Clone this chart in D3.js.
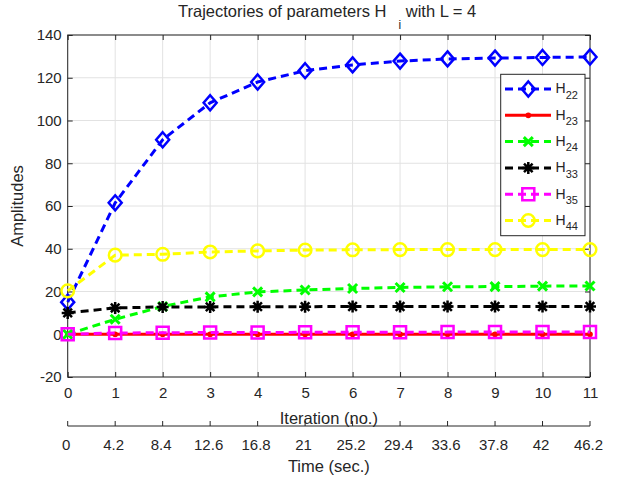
<!DOCTYPE html>
<html>
<head>
<meta charset="utf-8">
<script src="https://cdn.jsdelivr.net/npm/d3@7"></script>
<style>
  body { margin: 0; background: #fff; }
  svg { display: block; font-family: "Liberation Sans", Arial, Helvetica, sans-serif; }
  .grid line { stroke: #e2e2e2; stroke-width: 1; }
  .frame { fill: none; stroke: #262626; stroke-width: 1; }
  .tick-mark { stroke: #262626; stroke-width: 1; }
  .tick-label { fill: #262626; font-size: 15px; }
  .axis-label { fill: #262626; font-size: 16.5px; }
</style>
</head>
<body>
<div id="chart"></div>
<script>
// Data
var iterations = [0, 1, 2, 3, 4, 5, 6, 7, 8, 9, 10, 11];
var timeLabels = ["0", "4.2", "8.4", "12.6", "16.8", "21", "25.2", "29.4", "33.6", "37.8", "42", "46.2"];
var yTicks = [-20, 0, 20, 40, 60, 80, 100, 120, 140];

var h22 = [15, 61.5, 91, 108.3, 118, 123.3, 126, 127.8, 128.8, 129.2, 129.5, 129.7];
var h23 = [0, 0, 0, 0, 0, 0, 0, 0, 0, 0, 0, 0];
var h24 = [0, 7, 13, 17.5, 19.8, 20.7, 21.4, 21.9, 22.2, 22.3, 22.5, 22.6];
var h33 = [10, 12.3, 12.8, 12.8, 12.9, 12.9, 13, 13, 13, 13, 13, 13];
var h35 = [0, 0.6, 0.7, 0.8, 0.8, 0.9, 0.9, 0.9, 1, 1, 1, 1];
var h44 = [20.3, 37, 37.4, 38.5, 39, 39.4, 39.5, 39.6, 39.6, 39.6, 39.6, 39.6];

var series = [
  { name: "22", values: h22, color: "#0000ff", dash: "8,5", marker: "diamond" },
  { name: "23", values: h23, color: "#ff0000", dash: null, marker: "point" },
  { name: "24", values: h24, color: "#00ff00", dash: "8,5", marker: "cross" },
  { name: "33", values: h33, color: "#000000", dash: "8,5", marker: "asterisk" },
  { name: "35", values: h35, color: "#ff00ff", dash: "8,5", marker: "square" },
  { name: "44", values: h44, color: "#ffff00", dash: "8,5", marker: "circle" }
];

// MATLAB-like marker outlines, centred on 0,0
var markerPath = function(type) {
  if (type == "diamond") { return "M0,-7.5L6.5,0L0,7.5L-6.5,0Z"; }
  if (type == "square") { return "M-6,-6H6V6H-6Z"; }
  if (type == "circle") { return "M6.3,0A6.3,6.3 0 1,1 -6.3,0A6.3,6.3 0 1,1 6.3,0Z"; }
  if (type == "cross") { return "M-4.5,-4.5L4.5,4.5M-4.5,4.5L4.5,-4.5"; }
  if (type == "asterisk") { return "M-6,0H6M0,-6V6M-4.3,-4.3L4.3,4.3M-4.3,4.3L4.3,-4.3"; }
  return "M1.6,0A1.6,1.6 0 1,1 -1.6,0A1.6,1.6 0 1,1 1.6,0Z";
};

var width = 627;
var height = 479;
var plot = { left: 67.7, right: 590, top: 35, bottom: 377 };
var tickLen = 5;

var svg = d3.select("#chart")
  .append("svg")
  .attr("width", width)
  .attr("height", height);

var xScale = d3.scaleLinear().domain([0, 11]).range([plot.left, plot.right]);
var yScale = d3.scaleLinear().domain([-20, 140]).range([plot.bottom, plot.top]);

// Grid
var grid = svg.append("g").attr("class", "grid");
grid.selectAll("line.gx")
  .data(iterations)
  .enter()
  .append("line")
  .attr("x1", d => xScale(d)).attr("x2", d => xScale(d))
  .attr("y1", plot.top).attr("y2", plot.bottom);
grid.selectAll("line.gy")
  .data(yTicks)
  .enter()
  .append("line")
  .attr("x1", plot.left).attr("x2", plot.right)
  .attr("y1", d => yScale(d)).attr("y2", d => yScale(d));

// Axes (inward ticks on all four sides), plain hyphen for negatives
var plainNumber = d => String(d);

var xAxisBottom = d3.axisBottom(xScale).tickValues(iterations).tickSize(-tickLen).tickPadding(10).tickFormat(plainNumber);
var xAxisTop = d3.axisTop(xScale).tickValues(iterations).tickSize(-tickLen).tickFormat("");
var yAxisLeft = d3.axisLeft(yScale).tickValues(yTicks).tickSize(-tickLen).tickPadding(6).tickFormat(plainNumber);
var yAxisRight = d3.axisRight(yScale).tickValues(yTicks).tickSize(-tickLen).tickFormat("");

var styleAxis = function(g) {
  g.select(".domain").remove();
  g.selectAll(".tick line").attr("class", "tick-mark");
  g.selectAll(".tick text").attr("class", "tick-label").attr("fill", null);
  g.attr("font-size", null).attr("font-family", null);
};

svg.append("g").attr("transform", "translate(0," + plot.bottom + ")").call(xAxisBottom).call(styleAxis);
svg.append("g").attr("transform", "translate(0," + plot.top + ")").call(xAxisTop).call(styleAxis);
svg.append("g").attr("transform", "translate(" + plot.left + ",0)").call(yAxisLeft).call(styleAxis);
svg.append("g").attr("transform", "translate(" + plot.right + ",0)").call(yAxisRight).call(styleAxis);

svg.append("rect")
  .attr("class", "frame")
  .attr("x", plot.left).attr("y", plot.top)
  .attr("width", plot.right - plot.left)
  .attr("height", plot.bottom - plot.top);

// Series lines and markers
var line = d3.line()
  .x((d, i) => xScale(iterations[i]))
  .y(d => yScale(d));

series.forEach(function(s) {
  var g = svg.append("g").attr("class", "series s-" + s.name);
  g.append("path")
    .datum(s.values)
    .attr("d", line)
    .attr("fill", "none")
    .attr("stroke", s.color)
    .attr("stroke-width", 3)
    .attr("stroke-dasharray", s.dash);
  g.selectAll("path.marker")
    .data(s.values)
    .enter()
    .append("path")
    .attr("class", "marker")
    .attr("transform", (d, i) => "translate(" + xScale(iterations[i]) + "," + yScale(d) + ")")
    .attr("d", markerPath(s.marker))
    .attr("fill", s.marker == "point" ? s.color : "none")
    .attr("stroke", s.color)
    .attr("stroke-width", s.marker == "cross" ? 3 : 2.5);
});

// Title
var title = svg.append("text")
  .attr("class", "axis-label")
  .attr("x", 178)
  .attr("y", 17);
title.append("tspan").text("Trajectories of parameters H");
title.append("tspan").attr("dx", 12).attr("dy", 12).style("font-size", "12px").text("i");
title.append("tspan").attr("dy", -12).text(" with L = 4");

// Axis labels
svg.append("text")
  .attr("class", "axis-label")
  .attr("text-anchor", "middle")
  .attr("x", (plot.left + plot.right) / 2)
  .attr("y", 424)
  .text("Iteration (no.)");

svg.append("text")
  .attr("class", "axis-label")
  .attr("text-anchor", "middle")
  .attr("transform", "translate(23," + (plot.top + plot.bottom) / 2 + ") rotate(-90)")
  .text("Amplitudes");

// Second axis: time in seconds
var timeY = 426;
var timeAxis = svg.append("g").attr("class", "time-axis");
timeAxis.append("line")
  .attr("class", "tick-mark")
  .attr("x1", plot.left).attr("x2", plot.right)
  .attr("y1", timeY).attr("y2", timeY);
timeAxis.selectAll("line.t")
  .data(iterations)
  .enter()
  .append("line")
  .attr("class", "tick-mark")
  .attr("x1", d => xScale(d)).attr("x2", d => xScale(d))
  .attr("y1", timeY).attr("y2", timeY - tickLen);
timeAxis.selectAll("text")
  .data(timeLabels)
  .enter()
  .append("text")
  .attr("class", "tick-label")
  .attr("text-anchor", "middle")
  .attr("x", (d, i) => xScale(iterations[i]) - 1.5)
  .attr("y", 449.5)
  .text(d => d);

svg.append("text")
  .attr("class", "axis-label")
  .attr("text-anchor", "middle")
  .attr("x", (plot.left + plot.right) / 2)
  .attr("y", 471.5)
  .text("Time (sec.)");

// Legend
var legend = { x: 500.7, y: 74.3, w: 84.3, h: 161.4, rowTop: 89, rowGap: 26.3 };
var legendG = svg.append("g").attr("class", "legend");
legendG.append("rect")
  .attr("x", legend.x).attr("y", legend.y)
  .attr("width", legend.w).attr("height", legend.h)
  .attr("fill", "#fff")
  .attr("stroke", "#262626")
  .attr("stroke-width", 1);

var rows = legendG.selectAll("g.row")
  .data(series)
  .enter()
  .append("g")
  .attr("class", "row")
  .attr("transform", (d, i) => "translate(0," + (legend.rowTop + i * legend.rowGap) + ")");

rows.append("line")
  .attr("x1", 505).attr("x2", 551)
  .attr("y1", 0).attr("y2", 0)
  .attr("stroke", d => d.color)
  .attr("stroke-width", 3)
  .attr("stroke-dasharray", d => d.dash);

rows.append("path")
  .attr("transform", "translate(528.3,0)")
  .attr("d", d => markerPath(d.marker))
  .attr("fill", d => d.marker == "point" ? d.color : "none")
  .attr("stroke", d => d.color)
  .attr("stroke-width", d => d.marker == "cross" ? 3 : 2.5);

var labels = rows.append("text")
  .attr("x", 555.5)
  .attr("y", 4.3)
  .attr("fill", "#262626")
  .style("font-size", "14px");
labels.append("tspan").text("H");
labels.append("tspan").attr("dy", 5.5).style("font-size", "11px").text(d => d.name);
</script>
</body>
</html>
